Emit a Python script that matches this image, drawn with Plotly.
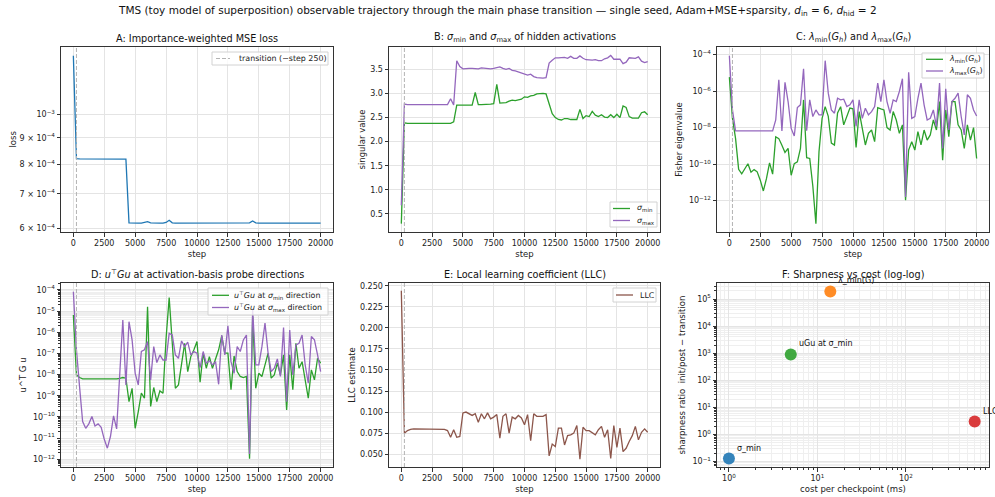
import math
import plotly.graph_objects as go

# ---------------- data ----------------
steps = list(range(0, 20001, 250))  # checkpoints every 250 steps

loss = [1.30e-3, 8.20e-4, 8.19e-4, 8.19e-4, 8.19e-4, 8.19e-4, 8.19e-4, 8.19e-4, 8.19e-4, 8.19e-4,
        8.19e-4, 8.19e-4, 8.19e-4, 8.19e-4, 8.19e-4, 8.19e-4, 8.19e-4, 8.18e-4, 6.15e-4, 6.14e-4,
        6.14e-4, 6.14e-4, 6.14e-4, 6.15e-4, 6.18e-4, 6.15e-4, 6.14e-4, 6.14e-4, 6.14e-4, 6.14e-4,
        6.16e-4, 6.22e-4, 6.15e-4, 6.14e-4, 6.14e-4, 6.14e-4, 6.14e-4, 6.14e-4, 6.14e-4, 6.14e-4,
        6.14e-4, 6.14e-4, 6.14e-4, 6.14e-4, 6.14e-4, 6.14e-4, 6.14e-4, 6.14e-4, 6.15e-4, 6.14e-4,
        6.14e-4, 6.14e-4, 6.14e-4, 6.14e-4, 6.14e-4, 6.14e-4, 6.14e-4, 6.15e-4, 6.20e-4, 6.15e-4,
        6.14e-4, 6.14e-4, 6.14e-4, 6.14e-4, 6.14e-4, 6.14e-4, 6.14e-4, 6.14e-4, 6.16e-4, 6.14e-4,
        6.14e-4, 6.14e-4, 6.14e-4, 6.14e-4, 6.14e-4, 6.14e-4, 6.14e-4, 6.14e-4, 6.14e-4, 6.14e-4,
        6.14e-4]

sigma_min = [0.30, 2.39, 2.38, 2.38, 2.38, 2.38, 2.38, 2.38, 2.38, 2.38,
             2.38, 2.38, 2.38, 2.38, 2.38, 2.38, 2.38, 2.41, 2.76, 2.76,
             2.76, 2.76, 2.76, 2.76, 3.02, 2.77, 2.77, 2.77, 2.78, 2.78,
             2.79, 3.19, 2.80, 2.80, 2.81, 2.84, 2.86, 2.85, 2.86, 2.88,
             2.93, 2.92, 2.95, 2.96, 2.99, 3.00, 3.00, 2.99, 2.78, 2.58,
             2.50, 2.46, 2.45, 2.48, 2.48, 2.46, 2.46, 2.46, 2.67, 2.48,
             2.54, 2.52, 2.63, 2.55, 2.52, 2.56, 2.51, 2.50, 2.56, 2.50,
             2.57, 2.50, 2.74, 2.71, 2.52, 2.49, 2.49, 2.49, 2.60, 2.62,
             2.56]

sigma_max = [0.68, 2.78, 2.77, 2.77, 2.77, 2.77, 2.77, 2.77, 2.77, 2.77,
             2.77, 2.77, 2.77, 2.77, 2.77, 2.77, 2.89, 2.76, 3.68, 3.56,
             3.51, 3.52, 3.52, 3.52, 3.52, 3.51, 3.53, 3.52, 3.52, 3.51,
             3.52, 3.53, 3.55, 3.52, 3.50, 3.52, 3.48, 3.47, 3.45, 3.43,
             3.41, 3.38, 3.40, 3.35, 3.33, 3.32, 3.32, 3.33, 3.63, 3.69,
             3.74, 3.74, 3.74, 3.75, 3.73, 3.77, 3.73, 3.73, 3.78, 3.73,
             3.70, 3.69, 3.69, 3.70, 3.68, 3.68, 3.72, 3.74, 3.79, 3.71,
             3.71, 3.71, 3.62, 3.65, 3.74, 3.73, 3.73, 3.76, 3.67, 3.64,
             3.66]

# Fisher eigenvalues of G_h (stored as log10 of the value)
lam_min_log10 = [-5.23, -7.49, -8.59, -10.28, -10.53, -10.28, -9.98, -10.44, -10.30, -10.42,
                 -10.88, -11.47, -10.80, -9.93, -10.55, -8.50, -8.60, -8.96, -9.36, -9.14,
                 -10.61, -9.97, -9.88, -9.14, -6.48, -9.65, -9.69, -11.20, -13.27, -9.32,
                 -7.49, -6.85, -7.38, -8.85, -8.96, -7.20, -6.85, -7.85, -7.38, -6.93,
                 -6.97, -9.08, -7.12, -7.94, -8.95, -8.31, -8.13, -8.77, -6.90, -6.97,
                 -7.03, -8.00, -8.13, -7.12, -7.58, -8.31, -7.85, -11.98, -9.23, -8.77,
                 -9.23, -8.22, -8.95, -8.13, -8.68, -8.40, -7.58, -8.13, -6.57, -9.78,
                 -7.03, -8.50, -6.57, -6.57, -7.85, -8.13, -9.14, -7.85, -8.68, -8.00,
                 -9.69]

lam_max_log10 = [-4.06, -7.03, -8.17, -8.17, -8.17, -8.17, -8.17, -8.17, -8.17, -8.17,
                 -8.17, -8.17, -8.17, -8.18, -8.18, -7.58, -5.38, -8.18, -5.52, -6.57,
                 -8.04, -8.46, -6.90, -6.75, -4.77, -8.17, -6.48, -7.39, -7.03, -7.30,
                 -7.30, -4.33, -6.11, -7.03, -7.21, -6.39, -6.48, -6.44, -6.84, -6.75,
                 -6.48, -7.94, -6.48, -7.49, -6.94, -7.30, -7.12, -6.84, -5.56, -6.57,
                 -5.38, -6.57, -7.21, -6.48, -6.57, -6.02, -5.32, -11.80, -4.97, -7.49,
                 -7.39, -6.39, -5.56, -6.75, -7.58, -7.49, -7.03, -7.94, -5.56, -9.14,
                 -5.87, -8.13, -6.57, -6.39, -6.11, -7.39, -8.40, -6.20, -6.39, -7.03,
                 -7.36]

# u^T G u at the sigma_min / sigma_max activation directions (log10)
ugu_min_log10 = [-5.18, -8.02, -8.14, -8.20, -8.20, -8.20, -8.20, -8.20, -8.20, -8.20,
                 -8.20, -8.20, -8.20, -8.22, -8.20, -8.18, -8.14, -8.17, -9.28, -8.65,
                 -10.54, -9.75, -8.88, -9.12, -4.79, -9.51, -8.61, -9.28, -8.77, -8.88,
                 -6.28, -4.36, -6.76, -8.65, -8.49, -7.46, -6.52, -7.86, -7.15, -6.83,
                 -6.44, -8.36, -6.99, -7.70, -7.15, -7.70, -7.31, -6.83, -6.17, -6.99,
                 -6.99, -8.72, -7.12, -7.86, -8.09, -8.14, -8.09, -11.98, -5.26, -8.65,
                 -7.94, -8.09, -7.54, -6.99, -8.17, -8.02, -7.46, -8.02, -7.07, -9.67,
                 -7.07, -8.72, -6.52, -7.70, -7.39, -8.17, -9.12, -7.78, -8.25, -7.23,
                 -7.46]

ugu_max_log10 = [-4.08, -6.83, -8.57, -10.22, -10.54, -10.33, -9.98, -10.43, -10.33, -10.49,
                 -11.06, -11.48, -10.93, -9.95, -10.57, -8.09, -5.42, -8.49, -5.50, -6.36,
                 -7.94, -8.49, -6.91, -6.83, -6.44, -8.25, -6.68, -7.43, -7.07, -7.31,
                 -7.31, -6.05, -6.13, -7.07, -7.23, -6.41, -6.68, -6.47, -7.07, -6.91,
                 -6.99, -7.67, -6.91, -7.46, -7.35, -7.54, -7.39, -8.46, -6.13, -7.07,
                 -5.70, -7.39, -7.94, -6.68, -6.91, -6.36, -6.13, -11.76, -4.94, -7.54,
                 -7.54, -6.68, -5.57, -6.99, -7.86, -7.70, -7.26, -8.09, -5.78, -9.28,
                 -5.89, -8.02, -6.60, -6.52, -6.13, -7.54, -8.41, -6.20, -6.36, -7.07,
                 -7.86]

llc = [0.244, 0.075, 0.078, 0.0795, 0.080, 0.080, 0.080, 0.080, 0.080, 0.080,
       0.080, 0.080, 0.080, 0.080, 0.0795, 0.078, 0.070, 0.079, 0.070, 0.071,
       0.099, 0.100, 0.098, 0.096, 0.098, 0.088, 0.098, 0.092, 0.099, 0.092,
       0.094, 0.097, 0.069, 0.095, 0.098, 0.075, 0.094, 0.092, 0.096, 0.093,
       0.085, 0.097, 0.066, 0.098, 0.095, 0.095, 0.095, 0.097, 0.048, 0.062,
       0.059, 0.081, 0.081, 0.061, 0.072, 0.073, 0.075, 0.084, 0.044, 0.082,
       0.078, 0.078, 0.076, 0.073, 0.079, 0.083, 0.070, 0.079, 0.045, 0.084,
       0.058, 0.081, 0.053, 0.057, 0.065, 0.072, 0.083, 0.067, 0.076, 0.080,
       0.076]

transition_step = 250

# Panel F
f_labels = ["σ_min", "uGu at σ_min", "λ_min(G)", "LLC"]
f_cost_ms = [1.0, 5.0, 14.0, 600.0]
f_sharpness = [0.13, 900.0, 1.9e5, 3.0]
f_colors = ["#1f77b4", "#2ca02c", "#ff7f0e", "#d62728"]

# legend texts
leg_a = ["transition (~step 250)"]
leg_b = ["<i>σ</i><sub>min</sub>", "<i>σ</i><sub>max</sub>"]
leg_c = ["<i>λ</i><sub>min</sub>(<i>G<sub>h</sub></i>)", "<i>λ</i><sub>max</sub>(<i>G<sub>h</sub></i>)"]
leg_d = ["<i>u</i><sup>⊤</sup><i>Gu</i> at <i>σ</i><sub>min</sub> direction",
         "<i>u</i><sup>⊤</sup><i>Gu</i> at <i>σ</i><sub>max</sub> direction"]
leg_e = ["LLC"]

# ---------------- styling ----------------
FONT = "DejaVu Sans"
GREEN, PURPLE, BLUE, BROWN = "#2ca02c", "#9467bd", "#1f77b4", "#8c564b"
TRANS = "#b3b3b3"
GRID = "#e4e4e4"
MINOR_GRID = "#efefef"
W, H = 995, 497


def p10(e):
    return "10<sup>" + ("−" + str(-e) if e < 0 else str(e)) + "</sup>"


def as_values(logs):
    return [10 ** v for v in logs]


def px(x):
    return x / W


def py(y):
    return 1 - y / H


col_x = [(61 / W, 333 / W), (389 / W, 660 / W), (717 / W, 989 / W)]
row_y = [(1 - 232 / H, 1 - 47 / H), (1 - 467 / H, 1 - 283 / H)]


def base_axis(domain, anchor):
    return dict(domain=list(domain), anchor=anchor, showline=True, mirror=True,
                linecolor="#333333", linewidth=1, ticks="outside", ticklen=3.5,
                tickwidth=0.8, tickcolor="#333333", showgrid=True, gridcolor=GRID,
                gridwidth=1, zeroline=False, automargin=False,
                tickfont=dict(size=8, color="#222222", family=FONT))


AX_FONT = dict(size=8.5, family=FONT, color="#222")


def atitle(text, standoff):
    return dict(text=text, font=AX_FONT, standoff=standoff)


step_ticks = [0, 2500, 5000, 7500, 10000, 12500, 15000, 17500, 20000]


def step_axis(domain, anchor):
    a = base_axis(domain, anchor)
    a.update(range=[-1000, 21000], tickvals=step_ticks, ticktext=[str(v) for v in step_ticks],
             title=atitle("step", 3))
    return a


fig = go.Figure()
line_w = 1.3
fig.add_trace(go.Scatter(x=steps, y=loss, mode="lines", line=dict(color=BLUE, width=line_w),
                         xaxis="x", yaxis="y", name="loss"))
fig.add_trace(go.Scatter(x=steps, y=sigma_min, mode="lines", line=dict(color=GREEN, width=line_w),
                         name="σ_min", xaxis="x2", yaxis="y2"))
fig.add_trace(go.Scatter(x=steps, y=sigma_max, mode="lines", line=dict(color=PURPLE, width=line_w),
                         name="σ_max", xaxis="x2", yaxis="y2"))
fig.add_trace(go.Scatter(x=steps, y=as_values(lam_min_log10), mode="lines",
                         line=dict(color=GREEN, width=line_w), name="λ_min(G_h)", xaxis="x3", yaxis="y3"))
fig.add_trace(go.Scatter(x=steps, y=as_values(lam_max_log10), mode="lines",
                         line=dict(color=PURPLE, width=line_w), name="λ_max(G_h)", xaxis="x3", yaxis="y3"))
fig.add_trace(go.Scatter(x=steps, y=as_values(ugu_min_log10), mode="lines",
                         line=dict(color=GREEN, width=line_w), name="uGu σ_min", xaxis="x4", yaxis="y4"))
fig.add_trace(go.Scatter(x=steps, y=as_values(ugu_max_log10), mode="lines",
                         line=dict(color=PURPLE, width=line_w), name="uGu σ_max", xaxis="x4", yaxis="y4"))
fig.add_trace(go.Scatter(x=steps, y=llc, mode="lines", line=dict(color=BROWN, width=line_w),
                         name="LLC", xaxis="x5", yaxis="y5"))
fig.add_trace(go.Scatter(x=f_cost_ms, y=f_sharpness, mode="markers",
                         marker=dict(color=f_colors, size=12, opacity=0.9, line=dict(width=0)),
                         xaxis="x6", yaxis="y6", name="probes"))

# ---------------- axes ----------------
layout = {}
layout["xaxis"] = step_axis(col_x[0], "y")
layout["xaxis2"] = step_axis(col_x[1], "y2")
layout["xaxis3"] = step_axis(col_x[2], "y3")
layout["xaxis4"] = step_axis(col_x[0], "y4")
layout["xaxis5"] = step_axis(col_x[1], "y5")

ya = base_axis(row_y[0], "x")
ya.update(type="log", range=[-3.229, -2.869],
          tickvals=[6e-4, 7e-4, 8e-4, 9e-4, 1e-3],
          ticktext=["6 × 10<sup>−4</sup>", "7 × 10<sup>−4</sup>", "8 × 10<sup>−4</sup>",
                    "9 × 10<sup>−4</sup>", "10<sup>−3</sup>"])
layout["yaxis"] = ya

yb = base_axis(row_y[0], "x2")
yb.update(range=[0.126, 3.964], tickvals=[0.5, 1.0, 1.5, 2.0, 2.5, 3.0, 3.5],
          ticktext=["0.5", "1.0", "1.5", "2.0", "2.5", "3.0", "3.5"],
          title=atitle("singular value", 3))
layout["yaxis2"] = yb

yc = base_axis(row_y[0], "x3")
yc.update(type="log", range=[-13.72, -3.58],
          tickvals=[1e-12, 1e-10, 1e-8, 1e-6, 1e-4],
          ticktext=[p10(e) for e in [-12, -10, -8, -6, -4]],
          title=atitle("Fisher eigenvalue", 4))
layout["yaxis3"] = yc

d_minor = [m * 10.0 ** e for e in range(-13, -3) for m in range(2, 10)]
yd = base_axis(row_y[1], "x4")
yd.update(type="log", range=[-12.37, -3.67],
          tickvals=[10.0 ** e for e in range(-12, -3)],
          ticktext=[p10(e) for e in range(-12, -3)],
          minor=dict(tickmode="array", tickvals=d_minor, showgrid=True, gridcolor=MINOR_GRID,
                     gridwidth=1, ticks="outside", ticklen=2, tickcolor="#333333"),
          title=atitle("u^T G u", 4))
layout["yaxis4"] = yd

ye = base_axis(row_y[1], "x5")
e_ticks = [0.050, 0.075, 0.100, 0.125, 0.150, 0.175, 0.200, 0.225, 0.250]
ye.update(range=[0.0348, 0.2532], tickvals=e_ticks, ticktext=["%.3f" % v for v in e_ticks],
          title=atitle("LLC estimate", 3))
layout["yaxis5"] = ye

f_xminor = [m * 10.0 ** e for e in range(-1, 3) for m in range(2, 10)]
xf = base_axis(col_x[2], "y6")
xf.update(type="log", range=[-0.135, 2.94], tickvals=[1, 10, 100], ticktext=[p10(0), p10(1), p10(2)],
          minor=dict(tickmode="array", tickvals=f_xminor, showgrid=True, gridcolor=MINOR_GRID,
                     gridwidth=1, ticks="outside", ticklen=2, tickcolor="#333333"),
          title=atitle("cost per checkpoint (ms)", 3))
layout["xaxis6"] = xf

f_yminor = [m * 10.0 ** e for e in range(-2, 6) for m in range(2, 10)]
yf = base_axis(row_y[1], "x6")
yf.update(type="log", range=[-1.197, 5.59], tickvals=[10.0 ** e for e in range(-1, 6)],
          ticktext=[p10(e) for e in range(-1, 6)],
          minor=dict(tickmode="array", tickvals=f_yminor, showgrid=True, gridcolor=MINOR_GRID,
                     gridwidth=1, ticks="outside", ticklen=2, tickcolor="#333333"),
          title=atitle("sharpness ratio  init/post − transition", 5))
layout["yaxis6"] = yf

# ---------------- shapes: transition markers ----------------
shapes = []
for xr, yr in [("x", "y"), ("x2", "y2"), ("x3", "y3"), ("x4", "y4"), ("x5", "y5")]:
    shapes.append(dict(type="line", xref=xr, yref=yr + " domain", x0=transition_step, x1=transition_step,
                       y0=0, y1=1, line=dict(color=TRANS, width=1, dash="4px,2px"), layer="above"))

annotations = []

# y-axis title of panel A (placed explicitly: the axis title would be clamped to the page edge)
annotations.append(dict(text="loss", x=px(12), y=(row_y[0][0] + row_y[0][1]) / 2, xref="paper",
                        yref="paper", xanchor="center", yanchor="middle", textangle=-90,
                        showarrow=False, font=AX_FONT))

# ---------------- matplotlib-style legends (box + sample line + text) ----------------
LEG_FONT = dict(size=7.9, family=FONT, color="#222")


def add_legend(box, rows, texts, styles, line_x0, line_x1, text_x):
    x0, y0, x1, y1 = box
    shapes.append(dict(type="rect", xref="paper", yref="paper", x0=px(x0), x1=px(x1),
                       y0=py(y1), y1=py(y0), line=dict(color="#d2d2d2", width=1),
                       fillcolor="rgba(255,255,255,0.8)", layer="above"))
    for yy, txt, (col, dash) in zip(rows, texts, styles):
        shapes.append(dict(type="line", xref="paper", yref="paper", x0=px(line_x0), x1=px(line_x1),
                           y0=py(yy), y1=py(yy), line=dict(color=col, width=1.3 if dash == "solid" else 1,
                                                           dash=dash), layer="above"))
        annotations.append(dict(text=txt, x=px(text_x), y=py(yy), xref="paper", yref="paper",
                                xanchor="left", yanchor="middle", showarrow=False, font=LEG_FONT))


add_legend((212, 52, 328, 65), [58.5], leg_a, [(TRANS, "4px,2px")], 216, 230, 237)
add_legend((610, 202, 657, 227), [208.5, 220.5], leg_b, [(GREEN, "solid"), (PURPLE, "solid")], 613, 630, 635)
add_legend((922, 53, 984, 78), [59.3, 71], leg_c, [(GREEN, "solid"), (PURPLE, "solid")], 926, 943, 947)
add_legend((208, 288, 328, 315), [295.3, 307.5], leg_d, [(GREEN, "solid"), (PURPLE, "solid")], 212, 229, 232)
add_legend((613, 288, 656, 302), [295], leg_e, [(BROWN, "solid")], 616, 633, 638)

# ---------------- titles ----------------
titles = [
    ("A: Importance-weighted MSE loss", 0, 0),
    ("B: <i>σ</i><sub>min</sub> and <i>σ</i><sub>max</sub> of hidden activations", 1, 0),
    ("C: <i>λ</i><sub>min</sub>(<i>G<sub>h</sub></i>) and <i>λ</i><sub>max</sub>(<i>G<sub>h</sub></i>)", 2, 0),
    ("D: <i>u</i><sup>⊤</sup><i>Gu</i> at activation-basis probe directions", 0, 1),
    ("E: Local learning coefficient (LLC)", 1, 1),
    ("F: Sharpness vs cost (log-log)", 2, 1),
]
for text, c, r in titles:
    annotations.append(dict(text=text, x=(col_x[c][0] + col_x[c][1]) / 2, y=row_y[r][1],
                            xref="paper", yref="paper", xanchor="center", yanchor="bottom",
                            yshift=1, showarrow=False, font=dict(size=9.7, family=FONT, color="#111")))

annotations.append(dict(
    text="TMS (toy model of superposition) observable trajectory through the main phase transition — "
         "single seed, Adam+MSE+sparsity, <i>d</i><sub>in</sub> = 6, <i>d</i><sub>hid</sub> = 2",
    x=0.5, y=1, xref="paper", yref="paper", xanchor="center", yanchor="top", yshift=-2,
    showarrow=False, font=dict(size=10.5, family=FONT, color="#111")))

for lab, cx, cy in zip(f_labels, f_cost_ms, f_sharpness):
    annotations.append(dict(text=lab, x=math.log10(cx), y=math.log10(cy), xref="x6", yref="y6",
                            xanchor="left", yanchor="bottom", xshift=6, yshift=4, showarrow=False,
                            font=dict(size=8, family=FONT, color="#111")))

fig.update_layout(**layout)
fig.update_layout(width=W, height=H, autosize=False, margin=dict(l=0, r=0, t=0, b=0),
                  paper_bgcolor="white", plot_bgcolor="white", shapes=shapes, showlegend=False,
                  annotations=annotations, font=dict(family=FONT, size=8, color="#222"))

fig.write_html("out.html")
